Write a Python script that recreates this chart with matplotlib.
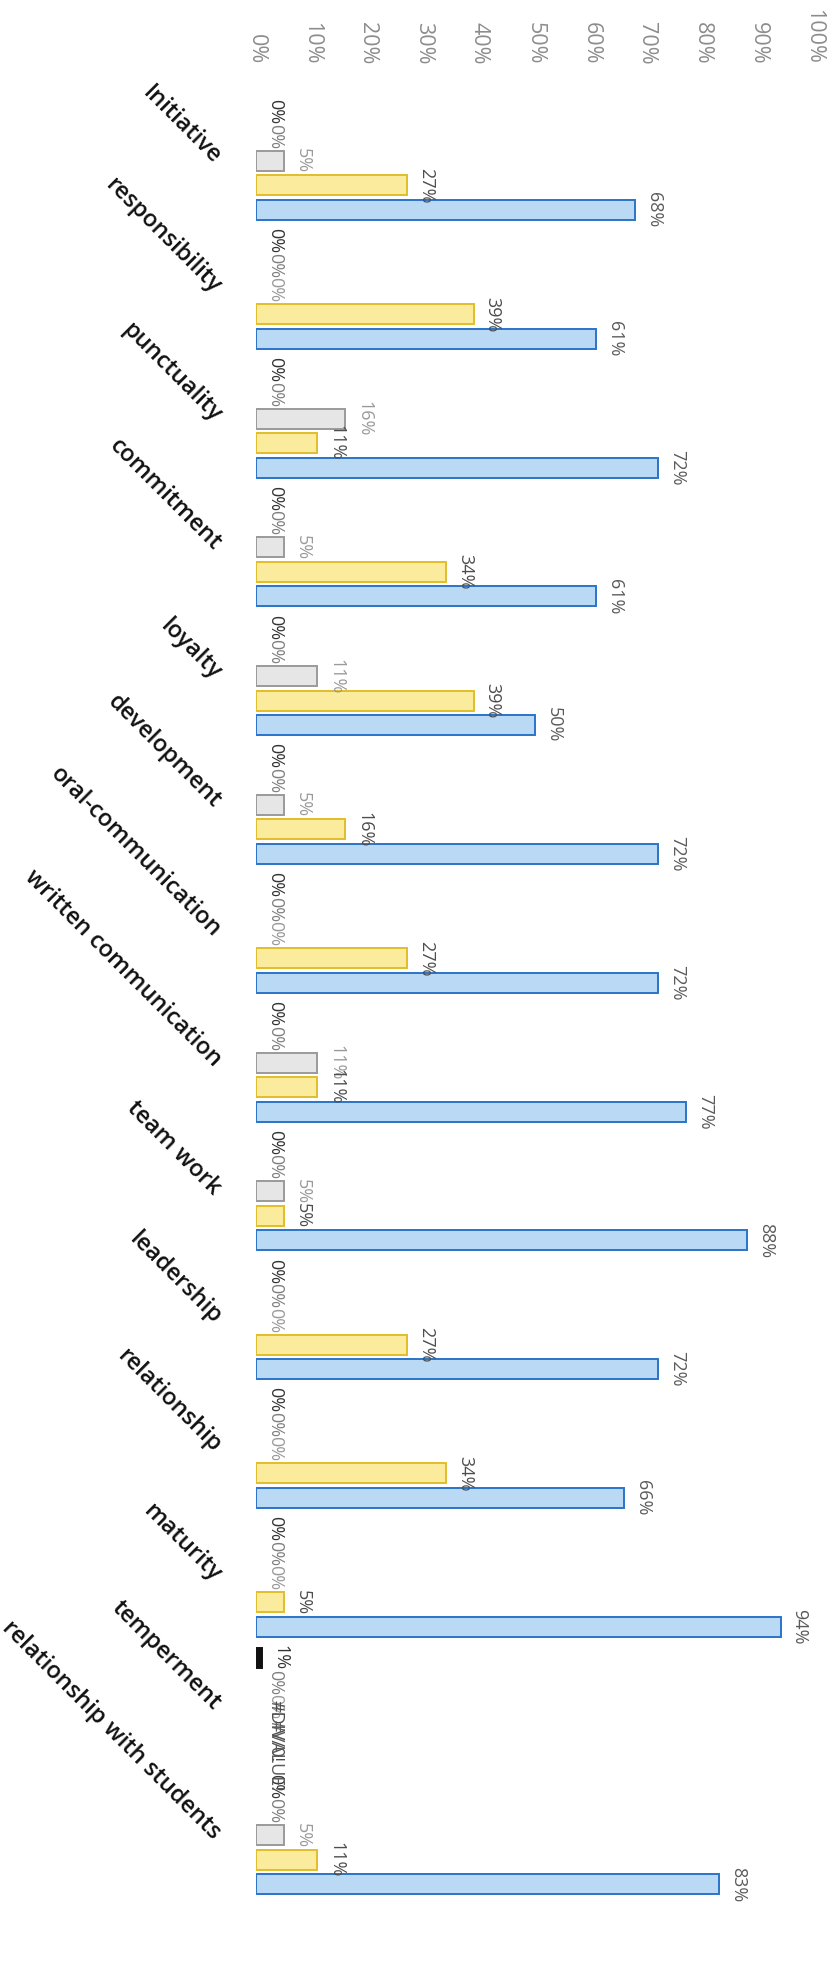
import numpy as np
import matplotlib
matplotlib.use("Agg")
import matplotlib.pyplot as plt

# ----------------------------------------------------------------------
# Data (percent); the chart is a column chart scanned sideways
# ----------------------------------------------------------------------
categories = [
    "Initiative", "responsibility", "punctuality", "commitment", "loyalty",
    "development", "oral-communication", "written communication", "team work",
    "leadership", "relationship", "maturity", "temperment",
    "relationship with students",
]
series_a = [0, 0, 0, 0, 0, 0, 0, 0, 0, 0, 0, 0, 1, 0]
series_b = [0, 0, 0, 0, 0, 0, 0, 0, 0, 0, 0, 0, 0, 0]
series_gray = [5, 0, 16, 5, 11, 5, 0, 11, 5, 0, 0, 0, 0, 5]
series_yellow = [27, 39, 11, 34, 39, 16, 27, 11, 5, 27, 34, 5, np.nan, 11]
series_blue = [68, 61, 72, 61, 50, 72, 72, 77, 88, 72, 66, 94, np.nan, 83]
error_labels = {(12, 3): "#DIV/0!", (12, 4): "#VALUE!"}
tick_values = list(range(0, 101, 10))

series = [series_a, series_b, series_gray, series_yellow, series_blue]
faces = ["#111111", "#dddddd", "#e6e6e6", "#fbeb9c", "#bad9f4"]
edges = ["#111111", "#9a9a9a", "#9a9a9a", "#e2bd2c", "#2b74c8"]
label_colors = ["#333333", "#808080", "#9a9a9a", "#4d4d4d", "#5a5a5a"]

plt.rcParams["font.family"] = ["Open Sans", "DejaVu Sans"]

fig = plt.figure(figsize=(8.39, 19.84), dpi=100)
H = 1984.0
top_px, bot_px = 85.0, 1974.0
ax = fig.add_axes([256 / 839, 1 - bot_px / H, (814 - 256) / 839, (bot_px - top_px) / H])

group_px = 128.8
y0_px = 161.0
ax.set_ylim((bot_px - y0_px) / group_px, -(y0_px - top_px) / group_px)
ax.set_xlim(0, 100)

pitch = 0.19
height = 0.155
y = np.arange(len(categories))
for k, vals in enumerate(series):
    off = (k - 2) * pitch
    v = np.array(vals, dtype=float)
    shown = np.nan_to_num(v) > 0
    ax.barh(y[shown] + off, v[shown], height=height, color=faces[k],
            edgecolor=edges[k], linewidth=1.4, zorder=2)
    for i, val in enumerate(vals):
        txt = error_labels.get((i, k))
        if txt is None:
            if np.isnan(val):
                continue
            txt = f"{int(val)}%"
        ax.text(np.nan_to_num(val) + 1.8, y[i] + off, txt, rotation=-90,
                rotation_mode="anchor", ha="center", va="bottom",
                fontsize=13, color=label_colors[k], zorder=3)

ax.xaxis.tick_top()
ax.set_xticks(tick_values)
ax.set_xticklabels([f"{t}%" for t in tick_values], rotation=-90,
                   rotation_mode="anchor", ha="right", va="center",
                   fontsize=15.5, color="#8c8c8c")
ax.tick_params(axis="x", length=0, pad=15)

ax.set_yticks(y)
ax.set_yticklabels(categories, rotation=-45, rotation_mode="anchor",
                   ha="right", va="center", fontsize=17, color="#111111",
                   fontweight="semibold")
ax.tick_params(axis="y", length=0, pad=28)

for s in ax.spines.values():
    s.set_visible(False)

fig.savefig("out.png", dpi=100)
